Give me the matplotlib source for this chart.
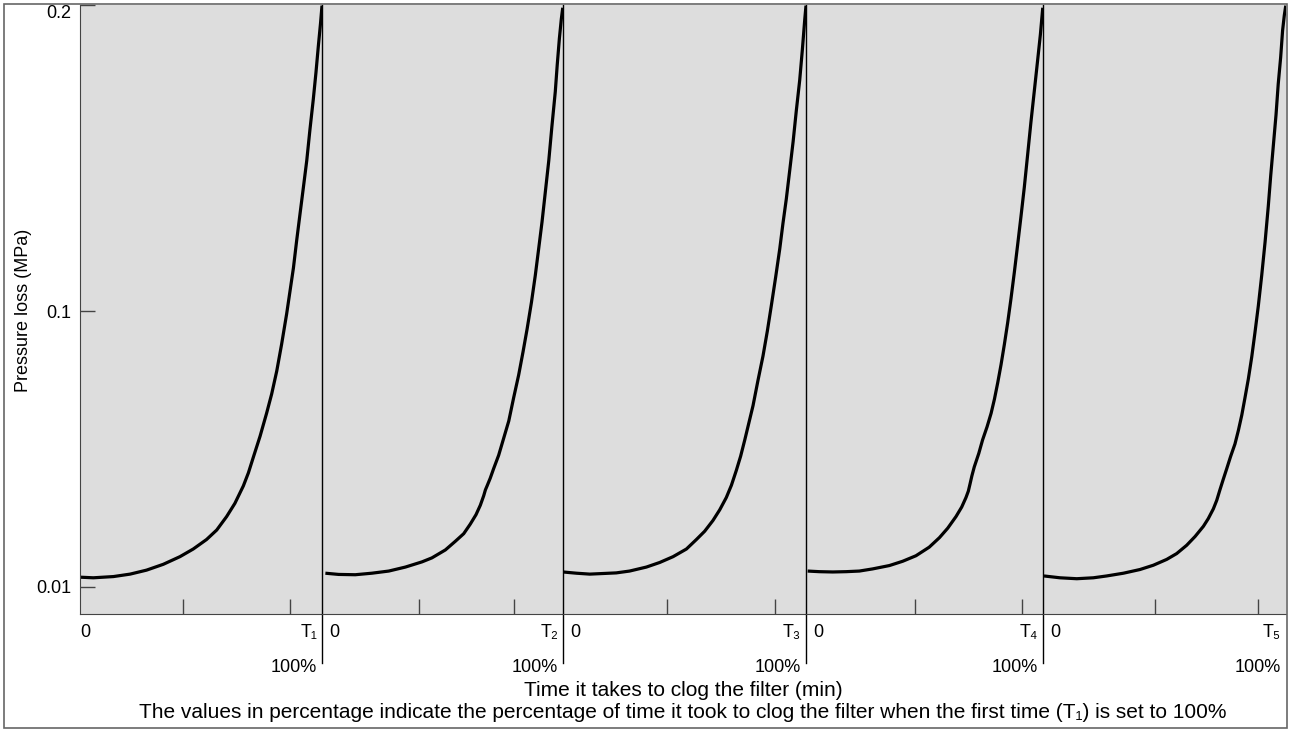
import matplotlib.pyplot as plt
from matplotlib.patches import Rectangle

plt.rcParams['font.family'] = ['Liberation Sans', 'DejaVu Sans']

# Time as percentage of clogging time (0-100) and pressure loss (MPa)
t1_x = [0, 5.5, 13.8, 20.7, 27.5, 34.4, 41.3, 46.8, 52.3, 56.5, 60.6, 64.0, 67.5, 69.6, 71.6, 74.4,
        77.1, 79.2, 81.3, 83.3, 85.4, 86.8, 88.2, 89.5, 90.9, 92.3, 93.7, 95.0, 96.4, 97.5, 98.5, 99.4, 100]
t1_y = [0.0132, 0.0130, 0.0134, 0.0142, 0.0155, 0.0174, 0.0199, 0.0224, 0.0255, 0.0286, 0.0330, 0.0373,
        0.0430, 0.0473, 0.0523, 0.0592, 0.0667, 0.0730, 0.0805, 0.0892, 0.0992, 0.1067, 0.1142, 0.1229,
        0.1317, 0.1404, 0.1492, 0.1592, 0.1692, 0.1779, 0.1867, 0.1941, 0.1998]

t2_x = [1.4, 6.9, 13.8, 20.7, 27.7, 34.6, 41.5, 45.6, 51.2, 55.3, 58.8, 61.5, 63.9, 65.7, 67.1, 67.8,
        68.5, 69.8, 71.2, 73.3, 75.4, 77.5, 79.5, 81.6, 83.4, 85.1, 86.9, 88.5, 89.9, 91.3, 92.7, 94.1,
        95.4, 96.8, 97.6, 98.5, 99.3, 99.9]
t2_y = [0.0145, 0.0141, 0.0140, 0.0145, 0.0152, 0.0165, 0.0182, 0.0195, 0.0221, 0.0249, 0.0274, 0.0305,
        0.0336, 0.0367, 0.0398, 0.0417, 0.0430, 0.0455, 0.0486, 0.0530, 0.0586, 0.0642, 0.0717, 0.0792,
        0.0867, 0.0942, 0.1029, 0.1117, 0.1204, 0.1292, 0.1392, 0.1492, 0.1604, 0.1717, 0.1804, 0.1891,
        0.1954, 0.1991]

t3_x = [0, 5.5, 11.0, 16.5, 21.9, 27.4, 34.3, 39.8, 45.3, 50.8, 54.9, 58.3, 61.7, 64.5, 67.2, 69.3,
        71.3, 73.1, 74.8, 76.5, 78.2, 80.2, 82.3, 84.1, 85.7, 87.5, 89.2, 90.5, 91.9, 93.3, 94.7, 96.0,
        97.4, 98.5, 99.5, 100]
t3_y = [0.0149, 0.0145, 0.0142, 0.0144, 0.0146, 0.0152, 0.0165, 0.0180, 0.0199, 0.0224, 0.0255, 0.0282,
        0.0317, 0.0352, 0.0392, 0.0432, 0.0480, 0.0527, 0.0580, 0.0636, 0.0692, 0.0773, 0.0854, 0.0936,
        0.1017, 0.1111, 0.1204, 0.1286, 0.1367, 0.1460, 0.1554, 0.1654, 0.1754, 0.1854, 0.1954, 0.1998]

t4_x = [0.7, 5.6, 11.3, 16.9, 22.5, 28.1, 35.2, 40.8, 46.4, 52.0, 56.3, 59.8, 63.3, 65.7, 67.5, 68.5,
        69.2, 70.0, 71.0, 72.9, 74.5, 76.4, 78.1, 79.5, 80.9, 82.3, 83.7, 85.1, 86.5, 87.9, 89.3, 90.7,
        92.1, 93.5, 94.9, 96.3, 97.7, 98.9, 99.9]
t4_y = [0.0152, 0.0150, 0.0149, 0.0150, 0.0152, 0.0159, 0.0170, 0.0184, 0.0202, 0.0230, 0.0261, 0.0292,
        0.0330, 0.0361, 0.0392, 0.0413, 0.0436, 0.0463, 0.0492, 0.0536, 0.0580, 0.0623, 0.0667, 0.0713,
        0.0767, 0.0826, 0.0892, 0.0963, 0.1042, 0.1127, 0.1217, 0.1309, 0.1404, 0.1510, 0.1617, 0.1717,
        0.1817, 0.1904, 0.1991]

t5_x = [0.4, 7.0, 13.9, 20.7, 26.2, 33.1, 39.9, 45.4, 50.9, 55.0, 59.1, 62.6, 66.0, 68.0, 70.1, 71.5,
        72.8, 74.2, 75.6, 77.2, 79.0, 80.4, 81.8, 83.1, 84.5, 85.9, 87.2, 88.6, 90.0, 91.4, 92.7, 93.7,
        94.8, 95.9, 96.8, 97.8, 98.6, 99.3, 99.9]
t5_y = [0.0136, 0.0130, 0.0127, 0.0130, 0.0136, 0.0145, 0.0157, 0.0171, 0.0190, 0.0209, 0.0236, 0.0265,
        0.0298, 0.0323, 0.0355, 0.0383, 0.0417, 0.0452, 0.0486, 0.0526, 0.0567, 0.0611, 0.0661, 0.0717,
        0.0779, 0.0851, 0.0929, 0.1017, 0.1117, 0.1227, 0.1342, 0.1442, 0.1542, 0.1642, 0.1742, 0.1829,
        0.1917, 0.1966, 0.1998]

curves_x = [t1_x, t2_x, t3_x, t4_x, t5_x]
curves_y = [t1_y, t2_y, t3_y, t4_y, t5_y]
end_labels = ["T\u2081", "T\u2082", "T\u2083", "T\u2084", "T\u2085"]
pct_labels = ["100%", "100%", "100%", "100%", "100%"]
minor_ticks = [[42.6, 86.8], [40.2, 79.7], [42.8, 87.2], [46.0, 91.1], [46.1, 88.5]]
y_ticks = [0.01, 0.1, 0.2]
y_ticklabels = ["0.01", "0.1", "0.2"]

W, H = 1290, 729
fig = plt.figure(figsize=(W / 100, H / 100), dpi=100)

# panel edges in pixels
edges = [80, 322, 563, 806, 1043, 1286]
top, bottom = 5, 614
edge_col = "#444444"

for i in range(5):
    x0, x1 = edges[i], edges[i + 1]
    ax = fig.add_axes([x0 / W, 1 - bottom / H, (x1 - x0) / W, (bottom - top) / H])
    ax.set_facecolor("#dddddd")
    ax.plot(curves_x[i], curves_y[i], color="black", lw=2.3,
            solid_capstyle="butt", solid_joinstyle="round")
    ax.set_xlim(0, 100)
    ax.set_ylim(0.00118, 0.2)
    for s in ["top", "right"]:
        ax.spines[s].set_visible(False)
    ax.spines["bottom"].set_color(edge_col)
    ax.spines["left"].set_color(edge_col)
    ax.set_xticks(minor_ticks[i])
    ax.set_xticklabels([])
    ax.tick_params(axis="x", direction="in", length=11, width=1, color=edge_col)
    if i == 0:
        ax.set_yticks(y_ticks)
        ax.set_yticklabels(y_ticklabels, fontsize=13)
        ax.tick_params(axis="y", direction="in", length=11, width=1, color=edge_col, pad=6)
        ax.get_yticklabels()[2].set_va("top")
        zero_x = 0.0
    else:
        ax.spines["left"].set_visible(False)
        ax.set_yticks([])
        # separator line running from the top down past the axis
        ax.axvline(0, ymin=-0.0805, ymax=1, color="black", lw=1, clip_on=False)
        zero_x = 3.0
    xt = ax.get_xaxis_transform()
    ax.text(zero_x, -0.03, "0", transform=xt, ha="left", va="center", fontsize=13)
    ax.text(98, -0.03, end_labels[i], transform=xt, ha="right", va="center", fontsize=13)
    ax.text(98, -0.088, pct_labels[i], transform=xt, ha="right", va="center", fontsize=13)

fig.text(24 / W, 1 - 310 / H, "Pressure loss (MPa)", rotation=90,
         ha="center", va="center", fontsize=13)
fig.text(683 / W, 1 - 691 / H, "Time it takes to clog the filter (min)",
         ha="center", va="center", fontsize=15)
fig.text(683 / W, 1 - 712 / H,
         "The values in percentage indicate the percentage of time it took to clog the filter "
         "when the first time (T\u2081) is set to 100%", ha="center", va="center", fontsize=15)

fig.patches.append(Rectangle((4 / W, 1 - 728 / H), 1283 / W, 724 / H, transform=fig.transFigure,
                             fill=False, edgecolor="#666666", lw=1.2))

fig.savefig("out.png", dpi=100)
